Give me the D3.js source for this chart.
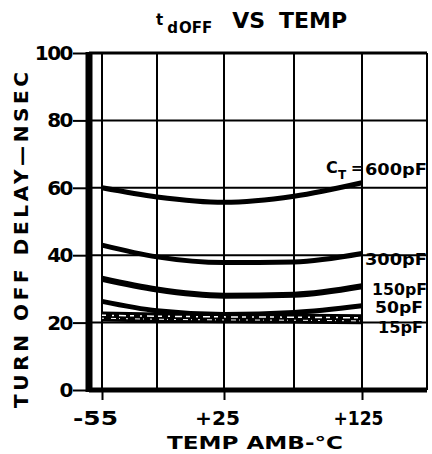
<!DOCTYPE html>
<html lang="en">
<head>
    <meta charset="UTF-8">
    <title>tdOFF vs Temp</title>
    <script src="https://d3js.org/d3.v7.min.js"></script>
    <style>
        body { margin: 0; background: #fff; }
        text { font-family: "DejaVu Sans", sans-serif; font-weight: bold; fill: #000; }
    </style>
</head>
<body>
    <div id="chart"></div>

    <script>
        const temps = [-55, -25, 25, 75, 125];
        // gridline positions (degrees C), last one is the right border
        const gridTemps = [-55, -25, 25, 75, 125, 175];
        const xTickTemps = [-55, 25, 125];
        const xTickLabels = ["-55", "+25", "+125"];
        const yTicks = [0, 20, 40, 60, 80, 100];

        // turn off delay in nsec per load capacitance
        const d600 = [60, 57.3, 55.7, 57.5, 61.5];
        const d300 = [43, 39.5, 37.8, 38, 40.5];
        const d150 = [33, 29.8, 28, 28.3, 30.8];
        const d50 = [26.3, 23.5, 22.4, 23, 25];
        const d15 = [21.8, 21.5, 21.3, 21.2, 21];

        const curveNames = ["600pF", "300pF", "150pF", "50pF", "15pF"];
        const curveLabels = ["600pF", "300pF", "150pF", "50pF", "15pF"];

        const width = 432, height = 454;

        const svg = d3.select("#chart")
            .append("svg")
            .attr("width", width)
            .attr("height", height);

        // the chart's temperature axis is not evenly spaced, so piecewise
        const x = d3.scaleLinear()
            .domain(gridTemps)
            .range([102, 157, 224, 294, 362, 427]);

        const y = d3.scaleLinear()
            .domain([0, 100])
            .range([390, 53]);

        const axisX = 89;

        // vertical grid
        svg.append("g")
            .selectAll("line")
            .data(gridTemps)
            .enter()
            .append("line")
            .attr("x1", d => x(d))
            .attr("x2", d => x(d))
            .attr("y1", y(100))
            .attr("y2", y(0))
            .attr("stroke", "#000")
            .attr("stroke-width", 2);

        // horizontal grid
        svg.append("g")
            .selectAll("line")
            .data(yTicks)
            .enter()
            .append("line")
            .attr("x1", axisX)
            .attr("x2", x(175))
            .attr("y1", d => y(d))
            .attr("y2", d => y(d))
            .attr("stroke", "#000")
            .attr("stroke-width", d => d === 0 ? 5 : (d === 100 ? 3 : 2));

        // thick left axis bar
        svg.append("line")
            .attr("x1", axisX).attr("x2", axisX)
            .attr("y1", y(100) - 1).attr("y2", y(0) + 2)
            .attr("stroke", "#000")
            .attr("stroke-width", 7);

        // y ticks + labels
        const yAxis = d3.axisLeft(y)
            .tickValues(yTicks)
            .tickSize(14)
            .tickPadding(1);

        const gy = svg.append("g")
            .attr("transform", `translate(${axisX - 2},0)`)
            .call(yAxis);
        gy.select(".domain").remove();
        gy.selectAll(".tick line").attr("stroke", "#000").attr("stroke-width", 2);
        gy.selectAll(".tick text")
            .attr("font-size", 20)
            .attr("font-family", "DejaVu Sans")
            .attr("font-weight", "bold")
            .attr("letter-spacing", -1.5);

        // x ticks + labels
        const xAxis = d3.axisBottom(x)
            .tickValues(xTickTemps)
            .tickFormat((d, i) => xTickLabels[i])
            .tickSize(10)
            .tickPadding(11);

        const gx = svg.append("g")
            .attr("transform", `translate(0,${y(0)})`)
            .call(xAxis);
        gx.select(".domain").remove();
        gx.selectAll(".tick line").attr("stroke", "#000").attr("stroke-width", 2);
        gx.selectAll(".tick text")
            .attr("font-size", 20)
            .attr("font-family", "DejaVu Sans")
            .attr("font-weight", "bold")
            .attr("textLength", (d, i) => [45, 45, 50][i])
            .attr("lengthAdjust", "spacingAndGlyphs")
            .attr("dx", (d, i) => i === 0 ? -7 : (i === 1 ? -7 : -4));

        // curves
        const series = [d600, d300, d150, d50, d15];
        const widths = [5, 5, 6, 5, 10];

        const line = d3.line()
            .x((d, i) => x(temps[i]))
            .y(d => y(d))
            .curve(d3.curveMonotoneX);

        svg.append("g")
            .selectAll("path")
            .data(series)
            .enter()
            .append("path")
            .attr("class", (d, i) => "curve c" + curveNames[i])
            .attr("d", d => line(d))
            .attr("fill", "none")
            .attr("stroke", "#000")
            .attr("stroke-width", (d, i) => widths[i]);

        // the 15pF band is speckled in the print
        svg.append("path")
            .attr("d", line(d15.map(v => v + 0.4)))
            .attr("fill", "none")
            .attr("stroke", "#fff")
            .attr("stroke-width", 1.5)
            .attr("stroke-dasharray", "4 6 2 5 7 4");
        svg.append("path")
            .attr("d", line(d15.map(v => v - 0.5)))
            .attr("fill", "none")
            .attr("stroke", "#fff")
            .attr("stroke-width", 1)
            .attr("stroke-dasharray", "2 7 5 3 1 6");

        // curve labels at the right
        const labelY = [175, 265, 295, 313, 333];
        const labelX = [365, 365, 372, 375, 378];

        svg.append("g")
            .selectAll("text")
            .data(curveLabels)
            .enter()
            .append("text")
            .attr("x", (d, i) => labelX[i])
            .attr("y", (d, i) => labelY[i])
            .attr("font-size", 16)
            .attr("textLength", (d, i) => 427 - labelX[i] - (i > 2 ? 4 : 0))
            .attr("lengthAdjust", "spacingAndGlyphs")
            .text(d => d);

        // C with subscript T and "=" for the 600pF label
        svg.append("text")
            .attr("x", 326)
            .attr("y", 173)
            .attr("font-size", 16)
            .text("C");
        svg.append("text")
            .attr("x", 338)
            .attr("y", 179)
            .attr("font-size", 12)
            .text("T");
        svg.append("text")
            .attr("x", 351)
            .attr("y", 173)
            .attr("font-size", 14)
            .text("=");

        // title
        const title = svg.append("text")
            .attr("x", 156)
            .attr("y", 28)
            .attr("font-size", 22);
        title.append("tspan").attr("font-size", 15).attr("dy", -3).text("t");
        title.append("tspan").attr("font-size", 15).attr("dy", 8).attr("dx", 4).text("d");
        title.append("tspan").attr("font-size", 15).attr("dx", 1).text("OFF");
        title.append("tspan").attr("dy", -5).attr("dx", 20).text("VS");
        title.append("tspan").attr("dx", 14).text("TEMP");

        // axis titles
        svg.append("text")
            .attr("transform", "translate(28,240) rotate(-90)")
            .attr("text-anchor", "middle")
            .attr("font-size", 20)
            .attr("textLength", 336)
            .attr("lengthAdjust", "spacing")
            .text("TURN  OFF  DELAY\u2014NSEC");

        svg.append("text")
            .attr("x", 255)
            .attr("y", 449)
            .attr("text-anchor", "middle")
            .attr("font-size", 18)
            .attr("textLength", 176)
            .attr("lengthAdjust", "spacingAndGlyphs")
            .text("TEMP AMB-\u00B0C");
    </script>
</body>
</html>
